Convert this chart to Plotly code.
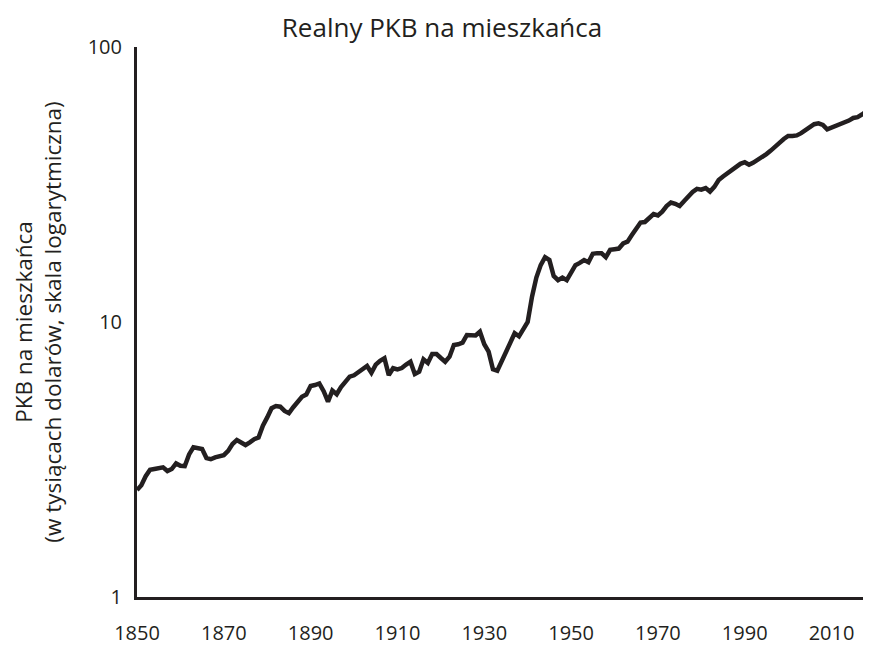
import plotly.graph_objects as go

years = list(range(1850, 2019))
gdp_per_capita = [
    2.45, 2.55, 2.75, 2.90, 2.92, 2.94, 2.96, 2.87, 2.92, 3.06,  # 1850-1859
    3.00, 2.99, 3.30, 3.50, 3.46, 3.45, 3.20, 3.17, 3.22, 3.25,  # 1860-1869
    3.28, 3.40, 3.60, 3.72, 3.66, 3.57, 3.65, 3.75, 3.80, 4.20,  # 1870-1879
    4.50, 4.86, 4.95, 4.92, 4.75, 4.66, 4.90, 5.15, 5.35, 5.45,  # 1880-1889
    5.85, 5.90, 5.98, 5.60, 5.13, 5.63, 5.46, 5.80, 6.10, 6.33,  # 1890-1899
    6.40, 6.55, 6.70, 6.92, 6.54, 7.00, 7.23, 7.38, 6.41, 6.79,  # 1900-1909
    6.72, 6.80, 7.00, 7.17, 6.47, 6.60, 7.32, 7.10, 7.65, 7.65,  # 1910-1919
    7.40, 7.17, 7.48, 8.25, 8.30, 8.41, 8.97, 8.95, 8.93, 9.22,  # 1920-1929
    8.30, 7.80, 6.73, 6.65, 7.20, 7.69, 8.50, 9.10, 8.87, 9.40,  # 1930-1939
    10.0, 12.36, 14.5, 16.1, 17.2, 16.8, 14.7, 14.2, 14.5, 14.2,  # 1940-1949
    15.2, 16.1, 16.4, 16.8, 16.5, 17.7, 17.8, 17.8, 17.2, 18.3,  # 1950-1959
    18.4, 18.5, 19.3, 19.6, 20.7, 22.0, 23.0, 23.1, 24.0, 24.7,  # 1960-1969
    24.4, 25.2, 26.4, 27.2, 26.9, 26.4, 27.5, 28.6, 29.7, 30.5,  # 1970-1979
    30.3, 30.7, 29.8, 31.0, 32.8, 33.8, 34.7, 35.6, 36.5, 37.6,  # 1980-1989
    38.1, 37.3, 38.0, 38.8, 39.8, 40.8, 42.0, 43.6, 44.8, 46.3,  # 1990-1999
    47.5, 47.5, 47.7, 48.6, 49.9, 51.2, 52.4, 52.8, 52.1, 50.2,  # 2000-2009
    50.9, 51.5, 52.1, 52.8, 54.0, 55.2, 55.6, 56.8, 58.2,        # 2010-2018
]
x_ticks = [1850, 1870, 1890, 1910, 1930, 1950, 1970, 1990, 2010]
y_ticks = [1, 10, 100]

title_text = "Realny PKB na mieszkańca"
y_title = "PKB na mieszkańca<br>(w tysiącach dolarów, skala logarytmiczna)"

FONT = "Open Sans, Noto Sans, sans-serif"
INK = "#231f20"

# page body has an 8px margin, so the figure is sized/offset to compensate
W, H = 863, 638

fig = go.Figure(
    go.Scatter(
        x=years, y=gdp_per_capita, mode="lines",
        line=dict(color=INK, width=4.5), hoverinfo="skip",
    )
)

fig.update_layout(
    width=W, height=H,
    margin=dict(l=129, r=3, t=39, b=49, autoexpand=False),
    paper_bgcolor="white", plot_bgcolor="white",
    showlegend=False,
    font=dict(family=FONT, color=INK, size=20),
    title=dict(
        text=title_text, x=434 / W, xref="container", xanchor="center",
        y=1 - 20 / H, yref="container", yanchor="middle",
        font=dict(family=FONT, size=26, color=INK),
    ),
)

fig.update_xaxes(
    range=[1850, 2018.4], tickvals=x_ticks, ticktext=[str(v) for v in x_ticks],
    showgrid=False, zeroline=False, automargin=False,
    showline=True, linecolor=INK, linewidth=3,
    ticks="", ticklabelstandoff=16,
    tickfont=dict(family=FONT, size=20, color=INK),
)
fig.update_yaxes(
    type="log", range=[0, 2], tickvals=y_ticks, ticktext=[str(v) for v in y_ticks],
    showgrid=False, zeroline=False, automargin=False,
    showline=True, linecolor=INK, linewidth=3,
    ticks="", ticklabelstandoff=8,
    tickfont=dict(family=FONT, size=20, color=INK),
    title=dict(text=y_title, standoff=20, font=dict(family=FONT, size=22.5, color=INK)),
)

fig.write_html("out.html")
